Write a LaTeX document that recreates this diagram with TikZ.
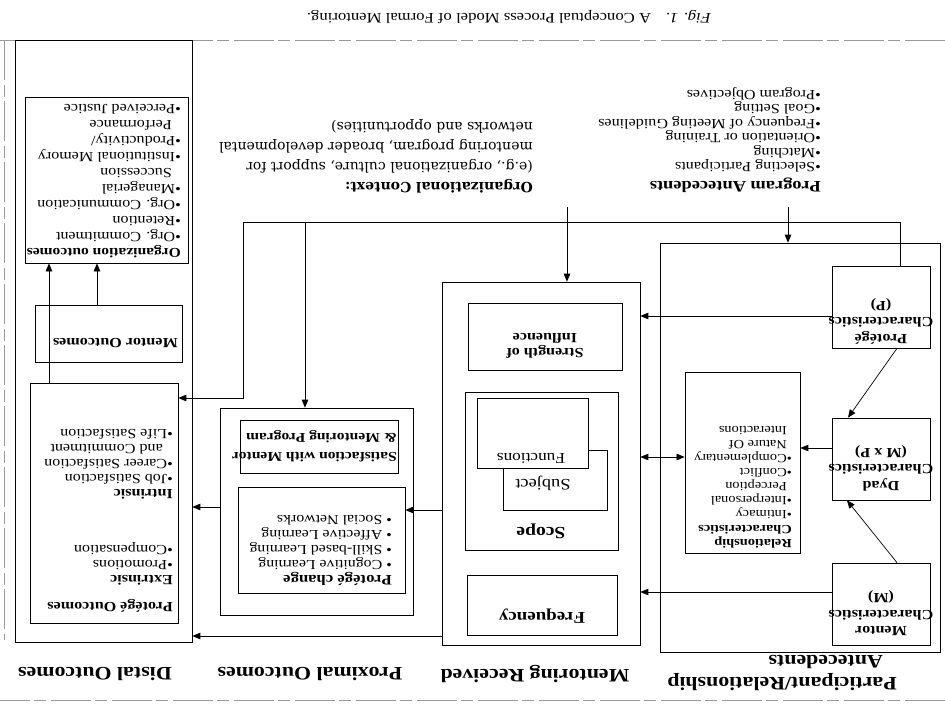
\documentclass[tikz,border=0pt]{standalone}
\usepackage{fontspec}
\setmainfont{Liberation Serif}[FakeStretch=1.15]
\newfontfamily\ctxfont{DejaVu Serif}
\usetikzlibrary{arrows.meta}

\tikzset{
  box/.style={draw, line width=0.7pt, inner sep=0pt},
  boxtext/.style={inner sep=0pt, anchor=north west, align=left},
  chartext/.style={inner sep=0pt, anchor=north, align=center, font=\fontsize{14}{16.5}\selectfont\bfseries},
  colhead/.style={inner sep=0pt, font=\fontsize{19}{22}\selectfont\bfseries},
  arr/.style={line width=0.7pt, -{Triangle[length=8pt,width=6.5pt]}},
  arrboth/.style={line width=0.7pt, {Triangle[length=8pt,width=6.5pt]}-{Triangle[length=8pt,width=6.5pt]}},
  link/.style={line width=0.7pt},
  pageline/.style={black!40, line width=0.6pt, dash pattern=on 40pt off 5pt on 12pt off 4pt}
}

\begin{document}
\begin{tikzpicture}[x=1pt,y=1pt]
% drawn upright, then turned over as on the scanned page
\begin{scope}[rotate=180, transform shape]
\useasboundingbox (0,0) rectangle (945,715);

% page edges
\draw[pageline] (0,40) -- (945,40);
\draw[pageline] (0,700) -- (945,700);
\draw[pageline] (941,40) -- (941,640);

% column heads
\node[colhead, align=left, anchor=north west] (headpart) at (48,691) {Participant/Relationship\\\hspace*{14pt}Antecedents};
\node[colhead] (headment) at (410,674) {Mentoring Received};
\node[colhead] (headprox) at (635,674) {Proximal Outcomes};
\node[colhead] (headdist) at (850,674) {Distal Outcomes};

% participant / relationship antecedents
\node[box, minimum width=280, minimum height=409] (part) at (145,447.5) {};
\node[box, minimum width=98, minimum height=82] (protchar) at (64,307) {};
\node[chartext] (protchartext) at (64,344) {Protégé\\Characteristics\\(P)};
\node[box, minimum width=98, minimum height=82] (dyadchar) at (64,459) {};
\node[chartext] (dyadchartext) at (64,491) {Dyad\\Characteristics\\(M x P)};
\node[box, minimum width=98, minimum height=82] (mentchar) at (64,604) {};
\node[chartext] (mentchartext) at (64,636) {Mentor\\Characteristics\\(M)};
\node[box, minimum width=115, minimum height=181] (relchar) at (202.5,462.5) {};
\node[boxtext, font=\fontsize{12.5}{14.1}\selectfont] (relchartext) at (153,548)
  {\textbf{Relationship}\\ \textbf{Characteristics}\\ •Intimacy\\ •Interpersonal\\ \hspace*{5pt}Perception\\
   •Conflict\\ •Complementary\\ \hspace*{5pt}Nature Of\\ \hspace*{5pt}Interactions};

% mentoring received
\node[box, minimum width=198, minimum height=363] (ment) at (404,463.5) {};
\node[box, minimum width=154, minimum height=67] (strength) at (400,336.5) {};
\node[chartext, font=\fontsize{14}{15}\selectfont\bfseries] (strengthtext) at (400,358.5) {Strength of\\Influence};
\node[box, minimum width=153, minimum height=158] (scope) at (403.5,471) {};
\node[chartext, font=\fontsize{17}{17}\selectfont\bfseries] (scopetext) at (404,538.5) {Scope};
\node[box, minimum width=104, minimum height=60] (subj) at (390,480) {};
\node[chartext, font=\fontsize{16}{16}\selectfont] (subjtext) at (402,491) {Subject};
\node[box, fill=white, minimum width=111, minimum height=70] (func) at (412.5,433) {};
\node[chartext, font=\fontsize{15}{15}\selectfont] (functext) at (414,464) {Functions};
\node[box, minimum width=150, minimum height=60] (freq) at (403,605) {};
\node[chartext, font=\fontsize{16.5}{16.5}\selectfont\bfseries] (freqtext) at (403,623.5) {Frequency};

% proximal outcomes
\node[box, minimum width=193, minimum height=207] (prox) at (628.5,511.5) {};
\node[box, minimum width=158, minimum height=53] (satis) at (626,446.5) {};
\node[boxtext, font=\fontsize{13.5}{19}\selectfont\bfseries] (satistext) at (548,462.5)
  {Satisfaction with Mentor\\ \& Mentoring Program};
\node[box, minimum width=167, minimum height=106] (pchange) at (623.5,540) {};
\node[boxtext, font=\fontsize{13.8}{15}\selectfont] (pchangetext) at (553,585.5)
  {{\fontsize{14.5}{15}\selectfont\bfseries Protégé change}\\ • Cognitive Learning\\ • Skill-based Learning\\
   • Affective Learning\\ • Social Networks};

% distal outcomes
\node[box, minimum width=177, minimum height=602] (distal) at (841.5,341) {};
\node[box, minimum width=163, minimum height=166] (orgout) at (838.5,180) {};
\node[boxtext, font=\fontsize{14}{16}\selectfont] (orgouttext) at (764,258)
  {{\fontsize{13.5}{16}\selectfont\bfseries Organization outcomes}\\ •Org. Commitment\\ •Retention\\
   •Org. Communication\\ •Managerial\\ \hspace*{9pt}Succession\\ •Institutional Memory\\
   •Productivity/\\ \hspace*{9pt}Performance\\ •Perceived Justice};
\node[box, minimum width=147, minimum height=57] (mentout) at (836.5,333.5) {};
\node[boxtext, font=\fontsize{14}{14}\selectfont\bfseries] (mentouttext) at (767,348) {Mentor Outcomes};
\node[box, minimum width=148, minimum height=240] (protout) at (841,503) {};
\node[boxtext, font=\fontsize{14}{15}\selectfont] (protouttext) at (772,612.5)
  {{\fontsize{14}{15}\selectfont\bfseries Protégé Outcomes}\\[12pt] \textbf{Extrinsic}\\ •Promotions\\
   •Compensation\\[41pt] \textbf{Intrinsic}\\ •Job Satisfaction\\ •Career Satisfaction\\
   \hspace*{10pt}and Commitment\\ •Life Satisfaction};

% program antecedents and context
\node[box, double, double distance=1.3pt, minimum width=288, minimum height=145] (prog) at (256,134.5) {};
\node[boxtext, font=\fontsize{14}{14.5}\selectfont] (progtext) at (124,192.5)
  {{\fontsize{16}{16}\selectfont\bfseries Program Antecedents}\\[4pt] •Selecting Participants\\ •Matching\\
   •Orientation or Training\\ •Frequency of Meeting Guidelines\\ •Goal Setting\\ •Program Objectives};
\node[boxtext, font=\ctxfont\fontsize{14}{20}\selectfont] (ctxtext) at (412,193)
  {\textbf{Organizational Context:}\\ (e.g., organizational culture, support for\\
   mentoring program, broader developmental\\ networks and opportunities)};

% caption
\node[inner sep=0pt, font=\fontsize{14.5}{15}\selectfont] (caption) at (436,17)
  {\textit{Fig. 1.}\quad A Conceptual Process Model of Formal Mentoring.};

% connectors
\coordinate (busleft) at (702,222);
\coordinate (busright) at (45,222);
\coordinate (busprox) at (640,222);
\coordinate (busment) at (378,222);
\coordinate (busturn) at (702,398);
\coordinate (progdrop) at (157,222);
\coordinate (rowprot) at (0,316);
\coordinate (rowdyad) at (0,448);
\coordinate (rowrel) at (0,457);
\coordinate (rowmentor) at (0,592);
\coordinate (rowchange) at (0,510);
\coordinate (rowlate) at (0,636);
\coordinate (rowprox) at (0,507);
\coordinate (colprot) at (896,0);
\coordinate (colmout) at (848,0);

\draw[arr] (prog.north -| progdrop) -- (part.south -| progdrop);
\draw[arr] (prog.north -| busment) -- (ment.south -| busment);
\draw[link] (busleft) -- (busright) -- (protchar.south -| busright);
\draw[arr] (busprox) -- (prox.south -| busprox);
\draw[arr] (busleft) -- (busturn) -- (protout.west |- busturn);

\draw[arr] (protchar.east |- rowprot) -- (ment.west |- rowprot);
\draw[arr] (mentchar.east |- rowmentor) -- (ment.west |- rowmentor);
\draw[arr] (dyadchar.east |- rowdyad) -- (relchar.west |- rowdyad);
\draw[arrboth] (relchar.east |- rowrel) -- (ment.west |- rowrel);
\draw[arr] ([xshift=-16pt]mentchar.south) -- ([xshift=34pt]dyadchar.north);
\draw[arr] ([xshift=-16pt]protchar.north) -- ([xshift=33pt]dyadchar.south);

\draw[arr] (ment.east |- rowchange) -- (pchange.west |- rowchange);
\draw[arr] (ment.east |- rowlate) -- (distal.west |- rowlate);
\draw[arr] (prox.east |- rowprox) -- (distal.west |- rowprox);
\draw[arr] (protout.south -| colprot) -- (orgout.north -| colprot);
\draw[arr] (mentout.south -| colmout) -- (orgout.north -| colmout);
\end{scope}
\end{tikzpicture}
\end{document}
